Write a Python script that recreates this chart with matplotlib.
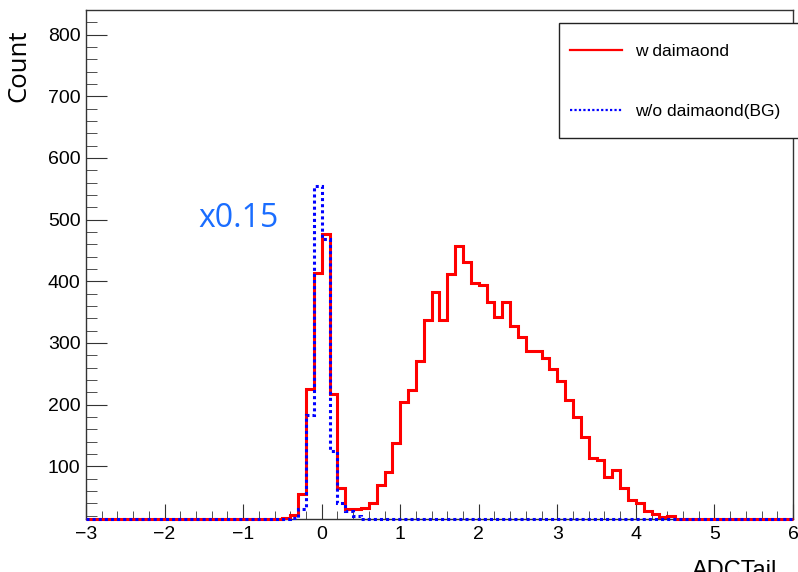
import numpy as np
import matplotlib
matplotlib.use("Agg")
import matplotlib.pyplot as plt
from matplotlib.ticker import MultipleLocator
from matplotlib.patches import Rectangle

plt.rcParams['font.family'] = ['Liberation Sans', 'DejaVu Sans']

# histogram binning: 90 bins of 0.1 from -3 to 6
bin_edges = np.round(np.arange(-3.0, 6.0001, 0.1), 2)

# w daimaond, bins starting at -0.5 ... 4.4 (others empty)
red_start = -0.5
red_counts = [16, 21, 55, 225, 413, 476, 218, 64, 30, 30,
              33, 41, 69, 91, 137, 204, 223, 270, 337, 383,
              338, 412, 457, 431, 397, 394, 367, 342, 366, 328,
              310, 287, 287, 276, 258, 238, 207, 180, 148, 113,
              110, 83, 94, 64, 46, 41, 28, 22, 17, 19]

# w/o daimaond (BG), scaled x0.15, bins starting at -0.4
blue_start = -0.4
blue_counts = [16, 30, 183, 555, 468, 125, 40, 28, 20]

labels = ["w daimaond", "w/o daimaond(BG)"]

ymin, ymax = 14.5, 840


def fill(start, counts):
    h = np.zeros(len(bin_edges) - 1)
    i0 = int(round((start - bin_edges[0]) / 0.1))
    h[i0:i0 + len(counts)] = counts
    return h


red = fill(red_start, red_counts)
blue = fill(blue_start, blue_counts)

fig = plt.figure(figsize=(7.98, 5.72), dpi=100)
ax = fig.add_axes([86 / 798, 53 / 572, 707 / 798, 509 / 572])

ax.stairs(np.clip(red, ymin, None), bin_edges, color='#ff0000', lw=2.2,
          baseline=None, clip_on=False, label=labels[0], zorder=3)
ax.stairs(np.clip(blue, ymin, None), bin_edges, color='#0000ff', lw=2.2,
          linestyle=(0, (1, 1)), baseline=None, clip_on=False,
          label=labels[1], zorder=4)

ax.set_xlim(-3, 6)
ax.set_ylim(ymin, ymax)
ax.xaxis.set_major_locator(MultipleLocator(1))
ax.xaxis.set_minor_locator(MultipleLocator(0.2))
ax.yaxis.set_major_locator(MultipleLocator(100))
ax.yaxis.set_minor_locator(MultipleLocator(20))
ax.set_yticks(np.arange(100, 801, 100))

for s in ax.spines.values():
    s.set_color('#333333')
    s.set_linewidth(1)
ax.tick_params(axis='both', which='both', direction='in', color='#333333',
               labelsize=14, top=False, right=False)
ax.tick_params(axis='y', which='major', length=15, pad=4)
ax.tick_params(axis='y', which='minor', length=8)
ax.tick_params(axis='x', which='major', length=11, pad=5)
ax.tick_params(axis='x', which='minor', length=5.5)

# legend box (runs past the right edge like the original)
box = Rectangle((559 / 798, 1 - 138 / 572), 0.33, 115 / 572,
                transform=fig.transFigure, facecolor='white',
                edgecolor='#222222', lw=1, zorder=10)
fig.add_artist(box)
leg = fig.legend(loc='upper left', bbox_to_anchor=(570 / 798, 1 - 44 / 572),
                 frameon=False, borderpad=0, borderaxespad=0, fontsize=12.5,
                 handlelength=3.0, handletextpad=0.75, labelspacing=2.6)
leg.set_zorder(11)
for h in leg.legend_handles:
    h.set_linewidth(1.6)

fig.text(198 / 798, 1 - 227 / 572, "x0.15", color='#1a6dff', fontsize=23,
         family=['Open Sans', 'DejaVu Sans'], va='baseline', ha='left')
fig.text(19 / 798, 1 - 66 / 572, "Count", rotation=90, fontsize=18.5,
         family=['Open Sans', 'DejaVu Sans'], va='center', ha='center')
fig.text(692 / 798, 1 - 560 / 572, "ADCTail", fontsize=17, va='top', ha='left')

fig.savefig("out.png", dpi=100)
